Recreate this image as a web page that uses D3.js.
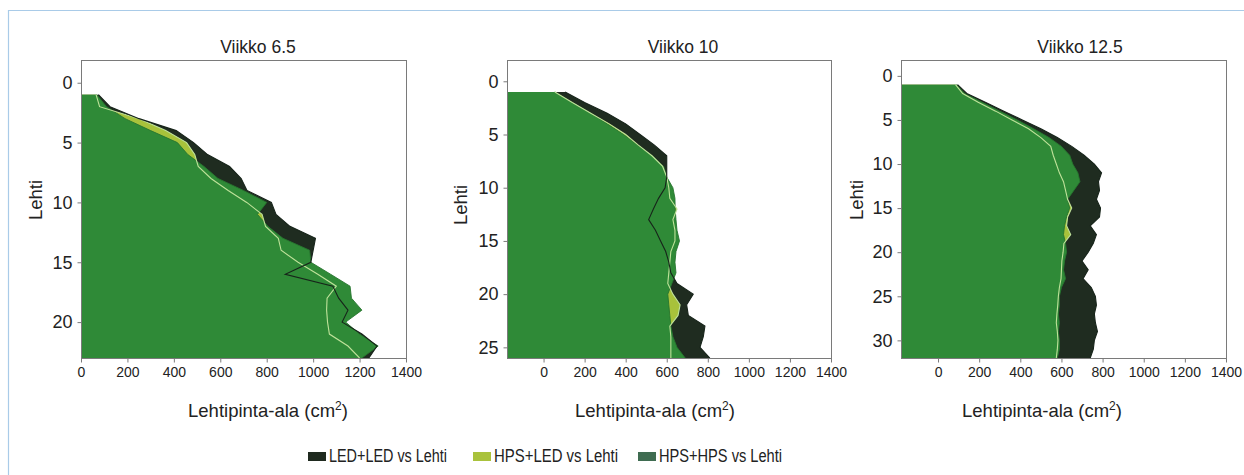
<!DOCTYPE html>
<html>
<head>
<meta charset="utf-8">
<script src="https://cdn.jsdelivr.net/npm/d3@7/dist/d3.min.js"></script>
<style>
  html, body { margin: 0; padding: 0; background: #ffffff; }
  svg { display: block; font-family: "Liberation Sans", Arial, sans-serif; }
</style>
</head>
<body>
<svg id="chart" width="1244" height="475"></svg>
<script>
// Leaf area (cm2) per leaf position, three lighting treatments, three sampling weeks
const panelTitles = ["Viikko 6.5", "Viikko 10", "Viikko 12.5"];
const seriesNames = ["LED+LED vs Lehti", "HPS+LED vs Lehti", "HPS+HPS vs Lehti"];
const xTicks = [0, 200, 400, 600, 800, 1000, 1200, 1400];

// Week 6.5 (leaves 1..23)
const leaves65 = d3.range(1, 24);
const ledLed65 = [75, 125, 250, 410, 485, 545, 640, 690, 715, 820, 840, 900, 1010, 1000, 990, 880, 1085, 1110, 1150, 1125, 1210, 1275, 1240];
const hpsLed65 = [65, 80, 250, 365, 455, 490, 505, 560, 634, 714, 780, 795, 850, 862, 935, 1020, 1100, 1060, 1058, 1062, 1070, 1150, 1200];
const hpsHps65 = [68, 110, 190, 300, 415, 460, 530, 590, 700, 800, 760, 805, 870, 985, 990, 1075, 1159, 1165, 1210, 1140, 1200, 1280, 1210];
const yTicks65 = [0, 5, 10, 15, 20];

// Week 10 (leaves 1..26)
const leaves10 = d3.range(1, 27);
const ledLed10 = [105, 200, 310, 400, 470, 540, 600, 600, 600, 592, 560, 535, 512, 545, 570, 595, 610, 620, 650, 729, 697, 705, 786, 778, 762, 810];
const hpsLed10 = [55, 140, 230, 320, 400, 462, 528, 580, 600, 610, 615, 650, 630, 640, 640, 620, 615, 610, 605, 630, 665, 655, 615, 620, 620, 620];
const hpsHps10 = [55, 140, 230, 310, 390, 460, 530, 585, 600, 630, 640, 641, 645, 650, 662, 645, 640, 645, 625, 605, 610, 615, 620, 630, 650, 690];
const yTicks10 = [0, 5, 10, 15, 20, 25];

// Week 12.5 (leaves 1..32)
const leaves125 = d3.range(1, 33);
const ledLed125 = [95, 140, 230, 320, 410, 500, 580, 650, 710, 760, 795, 780, 785, 770, 790, 785, 740, 770, 755, 730, 700, 730, 705, 745, 765, 770, 760, 765, 775, 760, 755, 740];
const hpsLed125 = [85, 120, 195, 280, 360, 440, 500, 548, 560, 575, 590, 610, 620, 630, 650, 630, 625, 645, 612, 608, 602, 600, 598, 590, 585, 582, 578, 575, 580, 583, 580, 575];
const hpsHps125 = [90, 130, 215, 300, 385, 465, 540, 600, 640, 655, 680, 690, 660, 630, 640, 625, 615, 610, 620, 625, 615, 610, 620, 600, 590, 590, 585, 590, 585, 590, 590, 580];
const yTicks125 = [0, 5, 10, 15, 20, 25, 30];

const fillColors = ["#1f2c20", "#a8c23b", "#2f8a37"];
const legendColors = ["#1f2a1f", "#a9c23c", "#3f6c51"];

const panels = [
  { title: panelTitles[0], leaves: leaves65, led: ledLed65, hl: hpsLed65, hh: hpsHps65, yTicks: yTicks65,
    xDom: [0, 1400], yDom: [-1.9, 23], left: 81, right: 406, titleX: 258, xLabelX: 268, yLabelX: 36, yLabelY: 200 },
  { title: panelTitles[1], leaves: leaves10, led: ledLed10, hl: hpsLed10, hh: hpsHps10, yTicks: yTicks10,
    xDom: [-178, 1400], yDom: [-2, 26], left: 507, right: 831, titleX: 683, xLabelX: 655, yLabelX: 461, yLabelY: 205 },
  { title: panelTitles[2], leaves: leaves125, led: ledLed125, hl: hpsLed125, hh: hpsHps125, yTicks: yTicks125,
    xDom: [-180, 1400], yDom: [-1.8, 32], left: 901, right: 1226, titleX: 1080, xLabelX: 1042, yLabelX: 857, yLabelY: 200 }
];

const svg = d3.select("#chart");
const plotTop = 60, plotBottom = 358;

// figure frame (top and left edges)
svg.append("path")
  .attr("d", "M8.5,480 L8.5,10.5 L1244,10.5")
  .attr("fill", "none").attr("stroke", "#a9cbe8").attr("stroke-width", 1.2);

panels.forEach((p, i) => {
  const x = d3.scaleLinear().domain(p.xDom).range([p.left, p.right]);
  const y = d3.scaleLinear().domain(p.yDom).range([plotTop, plotBottom]);
  const g = svg.append("g");

  const clipId = "clip" + i;
  svg.append("clipPath").attr("id", clipId)
    .append("rect").attr("x", p.left).attr("y", plotTop)
    .attr("width", p.right - p.left).attr("height", plotBottom - plotTop);

  const plot = g.append("g").attr("clip-path", `url(#${clipId})`);
  const base = x(p.xDom[0]);

  const makeArea = vals => d3.area()
    .y((d, k) => y(p.leaves[k]))
    .x0(base)
    .x1((d, k) => x(vals[k]))(vals);
  const makeLine = vals => d3.line()
    .y((d, k) => y(p.leaves[k]))
    .x((d, k) => x(vals[k]))(vals);

  plot.append("path").attr("d", makeArea(p.led)).attr("fill", fillColors[0]);
  plot.append("path").attr("d", makeArea(p.hl)).attr("fill", fillColors[1]);
  plot.append("path").attr("d", makeArea(p.hh)).attr("fill", fillColors[2]);
  plot.append("path").attr("d", makeLine(p.hh)).attr("fill", "none")
    .attr("stroke", "#27752f").attr("stroke-width", 0.9);
  plot.append("path").attr("d", makeLine(p.hl)).attr("fill", "none")
    .attr("stroke", "#bfe29a").attr("stroke-width", 1.1);
  plot.append("path").attr("d", makeLine(p.led)).attr("fill", "none")
    .attr("stroke", "#17241a").attr("stroke-width", 1.1);

  // plot frame
  g.append("rect").attr("x", p.left + 0.5).attr("y", plotTop + 0.5)
    .attr("width", p.right - p.left).attr("height", plotBottom - plotTop)
    .attr("fill", "none").attr("stroke", "#7a7a7a").attr("stroke-width", 1);

  // x axis
  const xAxis = g.append("g").attr("transform", `translate(0,${plotBottom + 0.5})`)
    .call(d3.axisBottom(x).tickValues(xTicks).tickSize(4).tickPadding(5).tickFormat(d3.format("d")));
  xAxis.select(".domain").remove();
  xAxis.selectAll("line").attr("stroke", "#7a7a7a");
  xAxis.selectAll("text").attr("font-size", 14).attr("fill", "#222")
    .attr("font-family", "'Liberation Sans', Arial, sans-serif");

  // y axis
  const yAxis = g.append("g").attr("transform", `translate(${p.left + 0.5},0)`)
    .call(d3.axisLeft(y).tickValues(p.yTicks).tickSize(4).tickPadding(5).tickFormat(d3.format("d")));
  yAxis.select(".domain").remove();
  yAxis.selectAll("line").attr("stroke", "#7a7a7a");
  yAxis.selectAll("text").attr("font-size", 18).attr("fill", "#222")
    .attr("font-family", "'Liberation Sans', Arial, sans-serif");

  // title
  g.append("text").attr("x", p.titleX).attr("y", 53).attr("text-anchor", "middle")
    .attr("font-size", 17.5).attr("fill", "#222").text(p.title);

  // x label with superscript
  const xl = g.append("text").attr("x", p.xLabelX).attr("y", 417).attr("text-anchor", "middle")
    .attr("font-size", 18.5).attr("fill", "#222");
  xl.append("tspan").text("Lehtipinta-ala (cm");
  xl.append("tspan").attr("font-size", 12).attr("dy", -7).text("2");
  xl.append("tspan").attr("dy", 7).text(")");

  // y label
  g.append("text")
    .attr("transform", `translate(${p.yLabelX},${p.yLabelY}) rotate(-90)`)
    .attr("text-anchor", "middle").attr("dy", "0.35em")
    .attr("font-size", 18.5).attr("fill", "#222").text("Lehti");
});

// legend
const legendX = [308, 473, 638];
const legendW = [118, 124, 123];
const legend = svg.append("g");
seriesNames.forEach((name, i) => {
  legend.append("rect").attr("x", legendX[i]).attr("y", 452)
    .attr("width", 18).attr("height", 9).attr("fill", legendColors[i]);
  legend.append("text").attr("x", legendX[i] + 21).attr("y", 462)
    .attr("font-size", 17.5).attr("fill", "#222")
    .attr("textLength", legendW[i]).attr("lengthAdjust", "spacingAndGlyphs")
    .text(name);
});
</script>
</body>
</html>
